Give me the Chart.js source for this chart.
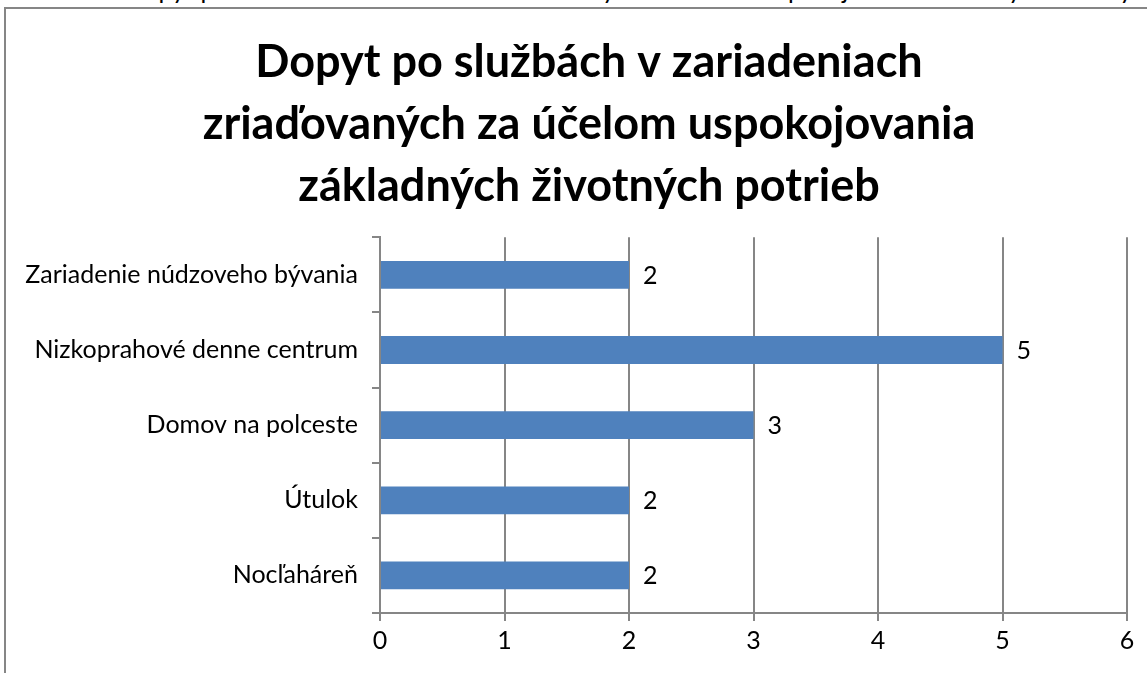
<!DOCTYPE html>
<html>
<head>
<meta charset="utf-8">
<script src="https://cdn.jsdelivr.net/npm/chart.js@4/dist/chart.umd.min.js"></script>
<style>
  html, body { margin: 0; padding: 0; background: #fff; overflow: hidden; }
  body { width: 1147px; height: 673px; position: relative; font-family: Lato, sans-serif; }
  #caption { position: absolute; left: 12px; top: -23px; font-size: 25px; line-height: 25px; color: #000; white-space: nowrap; }
  #frame { position: absolute; left: 4px; top: 7px; width: 1200px; height: 700px; border: 2px solid #868686; }
  #wrap { position: absolute; left: 0; top: 0; width: 1178px; height: 673px; }
</style>
</head>
<body>
<div id="caption">Graf č. 11 Dopyt po službách v zariadeniach zriaďovaných za účelom uspokojovania základných životných potrieb</div>
<div id="frame"></div>
<div id="wrap"><canvas id="chart" width="1178" height="673"></canvas></div>
<script>
const categories = [
    'Zariadenie núdzoveho bývania',
    'Nizkoprahové denne centrum',
    'Domov na polceste',
    'Útulok',
    'Nocľaháreň'
];
const demand = [2, 5, 3, 2, 2];
const titleLines = [
    'Dopyt po službách v zariadeniach',
    'zriaďovaných za účelom uspokojovania',
    'základných životných potrieb'
];

const axisGray = '#868686';

// value labels right of each bar
const valueLabels = {
    id: 'valueLabels',
    afterDatasetsDraw(chart) {
        const ctx = chart.ctx;
        const meta = chart.getDatasetMeta(0);
        ctx.save();
        ctx.font = '25px Lato';
        ctx.fillStyle = '#000';
        ctx.textAlign = 'left';
        ctx.textBaseline = 'middle';
        meta.data.forEach((bar, i) => {
            ctx.fillText(String(demand[i]), bar.x + 14, bar.y + 1);
        });
        ctx.restore();
    }
};

new Chart(document.getElementById('chart'), {
    type: 'bar',
    data: {
        labels: categories,
        datasets: [{
            data: demand,
            backgroundColor: '#4F81BD',
            borderWidth: 0,
            categoryPercentage: 1,
            barPercentage: 0.37
        }]
    },
    options: {
        indexAxis: 'y',
        responsive: false,
        animation: false,
        layout: { padding: 0 },
        plugins: {
            legend: { display: false },
            tooltip: { enabled: false },
            title: {
                display: true,
                text: titleLines,
                color: '#000',
                font: { family: 'Lato', size: 45, weight: 'bold', lineHeight: 1.38 },
                padding: { top: 31, bottom: 20 }
            }
        },
        scales: {
            x: {
                min: 0,
                max: 6,
                ticks: { stepSize: 1, color: '#000', font: { family: 'Lato', size: 25 }, padding: 5 },
                grid: { color: axisGray, lineWidth: 2, tickLength: 8 },
                border: { color: axisGray, width: 2 },
                afterFit(scale) { scale.height = 60; }
            },
            y: {
                ticks: { color: '#000', font: { family: 'Lato', size: 25 }, padding: 14 },
                grid: { color: axisGray, lineWidth: 2, tickLength: 8, drawOnChartArea: false, offset: true },
                border: { color: axisGray, width: 2 },
                afterFit(scale) { scale.width = 380; }
            },
            // empty spacer so the plot ends at x = 1127 while the title centres on the wider chart
            spacer: {
                type: 'category',
                position: 'right',
                ticks: { display: false },
                grid: { display: false },
                border: { display: false },
                afterFit(scale) { scale.width = 51; }
            }
        }
    },
    plugins: [valueLabels]
});
</script>
</body>
</html>
